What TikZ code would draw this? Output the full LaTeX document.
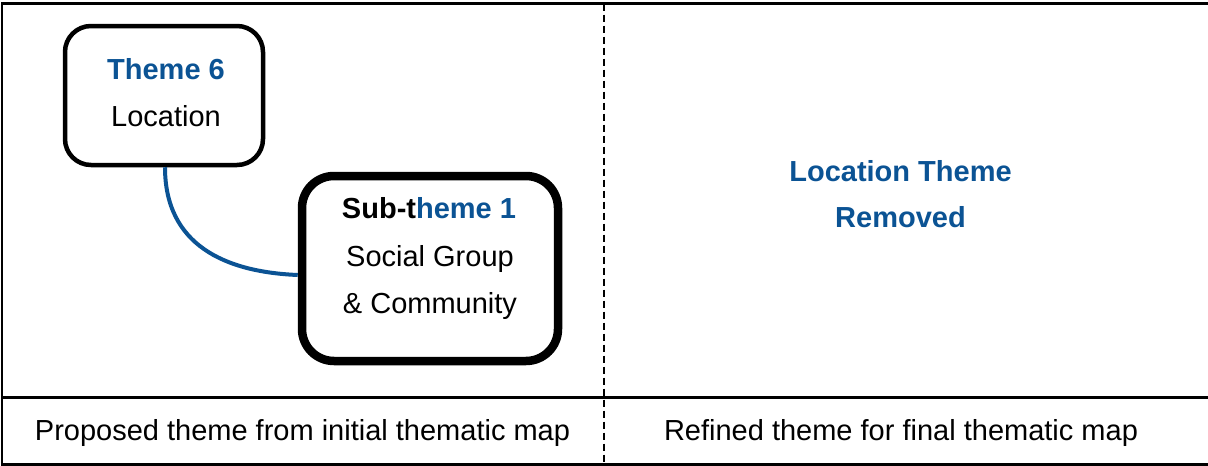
\documentclass[tikz,border=0pt]{standalone}
\usepackage{fontspec}
\setmainfont{Liberation Sans}
\definecolor{themeblue}{RGB}{11,83,148}
\begin{document}
\begin{tikzpicture}[x=1pt,y=-1pt,
  roundbox/.style={draw=black,rounded corners=26pt,fill=white,inner sep=0pt},
  txt/.style={anchor=base,inner sep=0pt,font=\fontsize{29}{35}\selectfont},
  btxt/.style={txt,font=\fontsize{29}{35}\selectfont\bfseries,text=themeblue}]
\useasboundingbox (0,0) rectangle (1208,466);
% frame
\draw[line width=2.5pt] (2,3.5) rectangle (1209,464.5);
\coordinate (divL) at (2,397.5);
\coordinate (divR) at (1209,397.5);
\draw[line width=2.2pt] (divL) -- (divR);
\coordinate (dashT) at (604,3.5);
\coordinate (dashB) at (604,464.5);
\draw[line width=2.4pt,dash pattern=on 7pt off 4pt] (dashT) -- (dashB);
% boxes
\node[roundbox,line width=4.5pt,minimum width=198pt,minimum height=139pt] (b1) at (164,95.5) {};
\node[roundbox,line width=8.5pt,rounded corners=32pt,minimum width=256pt,minimum height=185pt] (b2) at (430,268.5) {};
% connector
\draw[themeblue,line width=4pt] (b1.south -| 165,0) .. controls (165,245) and (225,272) .. (b2.west |- 0,275);
% texts
\node[btxt] (t6) at (166,79) {Theme 6};
\node[txt] (loc) at (166,126) {Location};
\node[txt,font=\fontsize{29}{35}\selectfont\bfseries] (st) at (429,218) {Sub-t\textcolor{themeblue}{heme 1}};
\node[txt] (sg) at (430,266) {Social Group};
\node[txt] (comm) at (430,313) {\& Community};
\node[btxt] (lt) at (900.5,181) {Location Theme};
\node[btxt] (rem) at (900.5,227) {Removed};
\node[txt] (cap1) at (302.5,440) {Proposed theme from initial thematic map};
\node[txt] (cap2) at (901,440) {Refined theme for final thematic map};
\end{tikzpicture}
\end{document}
